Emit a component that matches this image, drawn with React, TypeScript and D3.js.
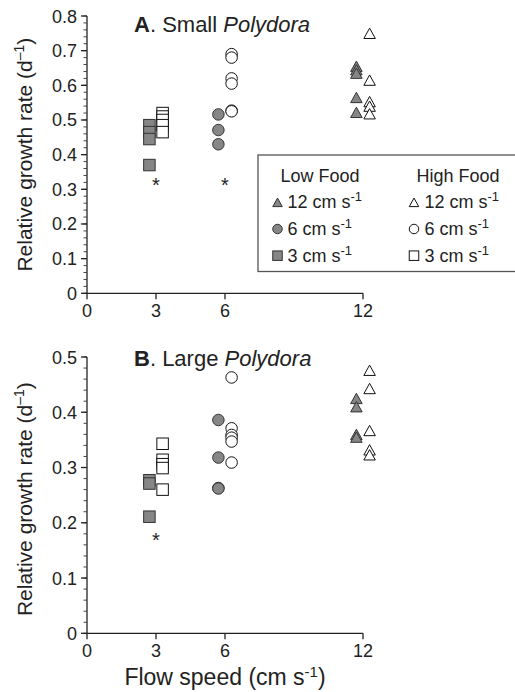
import React from 'react';
import * as d3 from 'd3';

// flow speeds (cm s-1)
const speeds = [3, 6, 12];

// Panel A: small Polydora, relative growth rate (d-1)
const smallLow3 = [0.485, 0.465, 0.445, 0.37];
const smallHigh3 = [0.52, 0.51, 0.5, 0.485, 0.465];
const smallLow6 = [0.516, 0.471, 0.43];
const smallHigh6 = [0.69, 0.68, 0.62, 0.605, 0.527, 0.525];
const smallLow12 = [0.655, 0.645, 0.635, 0.565, 0.522];
const smallHigh12 = [0.75, 0.615, 0.553, 0.54, 0.518];
const smallStars = [{ speed: 3, value: 0.322 }, { speed: 6, value: 0.322 }];

// Panel B: large Polydora
const largeLow3 = [0.277, 0.271, 0.211];
const largeHigh3 = [0.343, 0.314, 0.306, 0.299, 0.26];
const largeLow6 = [0.386, 0.318, 0.263, 0.262];
const largeHigh6 = [0.463, 0.371, 0.359, 0.354, 0.347, 0.309];
const largeLow12 = [0.425, 0.41, 0.36, 0.355];
const largeHigh12 = [0.476, 0.443, 0.367, 0.332, 0.323];
const largeStars = [{ speed: 3, value: 0.175 }];

const xTicks = [0, 3, 6, 12];
const legendRows = ['12', '6', '3'];

type Shape = 'triangle' | 'circle' | 'square';
const shapeBySpeed: Record<number, Shape> = { 3: 'square', 6: 'circle', 12: 'triangle' };

const GRAY = '#868686';
const FONT = 'Liberation Sans, Arial, Helvetica, sans-serif';

const Marker = ({ shape, x, y, filled, size }: { shape: Shape; x: number; y: number; filled: boolean; size: number }) => {
  const fill = filled ? GRAY : '#fff';
  const stroke = filled ? '#333' : '#111';
  if (shape === 'square') {
    return <rect x={x - size / 2} y={y - size / 2} width={size} height={size} fill={fill} stroke={stroke} strokeWidth={1} />;
  }
  if (shape === 'circle') {
    return <circle cx={x} cy={y} r={size / 2} fill={fill} stroke={stroke} strokeWidth={1} />;
  }
  const h = size * 0.9;
  const pts = `${x},${y - h / 2} ${x - size / 2},${y + h / 2} ${x + size / 2},${y + h / 2}`;
  return <polygon points={pts} fill={fill} stroke={stroke} strokeWidth={1} />;
};

interface PanelProps {
  top: number;
  bottom: number;
  maxY: number;
  low: number[][];
  high: number[][];
  stars: { speed: number; value: number }[];
  letter: string;
  size: string;
  titleY: number;
  labelShift: number;
}

const Panel = ({ top, bottom, maxY, low, high, stars, letter, size, titleY, labelShift }: PanelProps) => {
  const x = d3.scaleLinear().domain([0, 12]).range([87, 363]);
  const y = d3.scaleLinear().domain([0, maxY]).range([bottom, top]);
  const major = y.ticks(Math.round(maxY / 0.1));
  const minor = d3.range(0, maxY + 1e-9, 0.02);
  const off = 6.6;
  return (
    <g>
      <text x={134} y={titleY} fontSize={22} fontFamily={FONT} fill="#222">
        <tspan fontWeight="bold">{letter}</tspan>. {size} <tspan fontStyle="italic">Polydora</tspan>
      </text>
      {/* y axis */}
      <line x1={87} x2={87} y1={y(maxY)} y2={y(0)} stroke="#222" strokeWidth={1.3} />
      {minor.map((v, i) => (
        <line key={'m' + i} x1={83.5} x2={87} y1={y(v)} y2={y(v)} stroke="#444" strokeWidth={1} />
      ))}
      {major.map((v) => (
        <g key={'M' + v}>
          <line x1={81} x2={87} y1={y(v)} y2={y(v)} stroke="#222" strokeWidth={1.3} />
          <text x={77} y={y(v) + 6.5} textAnchor="end" fontSize={18} fontFamily={FONT} fill="#222">
            {v === 0 ? '0' : d3.format('.1f')(v)}
          </text>
        </g>
      ))}
      {/* x axis */}
      <line x1={87} x2={x(12)} y1={y(0)} y2={y(0)} stroke="#222" strokeWidth={1.3} />
      {xTicks.map((t) => (
        <g key={'x' + t}>
          <line x1={x(t)} x2={x(t)} y1={y(0)} y2={y(0) + 6} stroke="#222" strokeWidth={1.3} />
          <text x={x(t)} y={y(0) + 23.5} textAnchor="middle" fontSize={18} fontFamily={FONT} fill="#222">{t}</text>
        </g>
      ))}
      <text
        transform={`translate(32,${(top + bottom) / 2 + labelShift}) rotate(-90)`}
        textAnchor="middle"
        fontSize={21}
        fontFamily={FONT}
        fill="#222"
      >
        Relative growth rate (d<tspan baselineShift="super" fontSize={14}>–1</tspan>)
      </text>
      {speeds.map((s, i) => (
        <g key={'s' + s}>
          {low[i].map((v, j) => (
            <Marker key={'l' + j} shape={shapeBySpeed[s]} x={x(s) - off} y={y(v)} filled size={11.5} />
          ))}
          {high[i].map((v, j) => (
            <Marker key={'h' + j} shape={shapeBySpeed[s]} x={x(s) + off} y={y(v)} filled={false} size={11.5} />
          ))}
        </g>
      ))}
      {stars.map((st, i) => (
        <text key={'st' + i} x={x(st.speed)} y={y(st.value) + 10} textAnchor="middle" fontSize={20} fontFamily={FONT} fill="#222">*</text>
      ))}
    </g>
  );
};

const Legend = () => {
  const rowY = d3.scaleBand<string>().domain(legendRows).range([192, 272]);
  return (
    <g fontFamily={FONT} fill="#222">
      <rect x={258} y={155} width={260} height={116.5} fill="#fff" stroke="#555" strokeWidth={1.3} />
      <text x={320} y={182} textAnchor="middle" fontSize={18}>Low Food</text>
      <text x={458} y={182} textAnchor="middle" fontSize={18}>High Food</text>
      {legendRows.map((r) => {
        const cy = (rowY(r) ?? 0) + rowY.bandwidth() / 2 - 3;
        const shape = shapeBySpeed[+r];
        return (
          <g key={r}>
            <Marker shape={shape} x={277.5} y={cy} filled size={9.5} />
            <text x={287.5} y={cy + 6} fontSize={18}>
              {r} cm s<tspan baselineShift="super" fontSize={13}>-1</tspan>
            </text>
            <Marker shape={shape} x={414} y={cy} filled={false} size={9.5} />
            <text x={424.5} y={cy + 6} fontSize={18}>
              {r} cm s<tspan baselineShift="super" fontSize={13}>-1</tspan>
            </text>
          </g>
        );
      })}
    </g>
  );
};

export default function App() {
  return (
    <svg width={515} height={692} style={{ position: 'absolute', left: 0, top: 0, background: '#fff' }}>
      <Panel
        top={16}
        bottom={293.3}
        maxY={0.8}
        low={[smallLow3, smallLow6, smallLow12]}
        high={[smallHigh3, smallHigh6, smallHigh12]}
        stars={smallStars}
        letter="A"
        size="Small"
        titleY={32}
        labelShift={0}
      />
      <Legend />
      <Panel
        top={357}
        bottom={633.3}
        maxY={0.5}
        low={[largeLow3, largeLow6, largeLow12]}
        high={[largeHigh3, largeHigh6, largeHigh12]}
        stars={largeStars}
        letter="B"
        size="Large"
        titleY={366}
        labelShift={4}
      />
      <text x={225} y={685} textAnchor="middle" fontSize={23} fontFamily={FONT} fill="#222">
        Flow speed (cm s<tspan baselineShift="super" fontSize={15}>-1</tspan>)
      </text>
    </svg>
  );
}
